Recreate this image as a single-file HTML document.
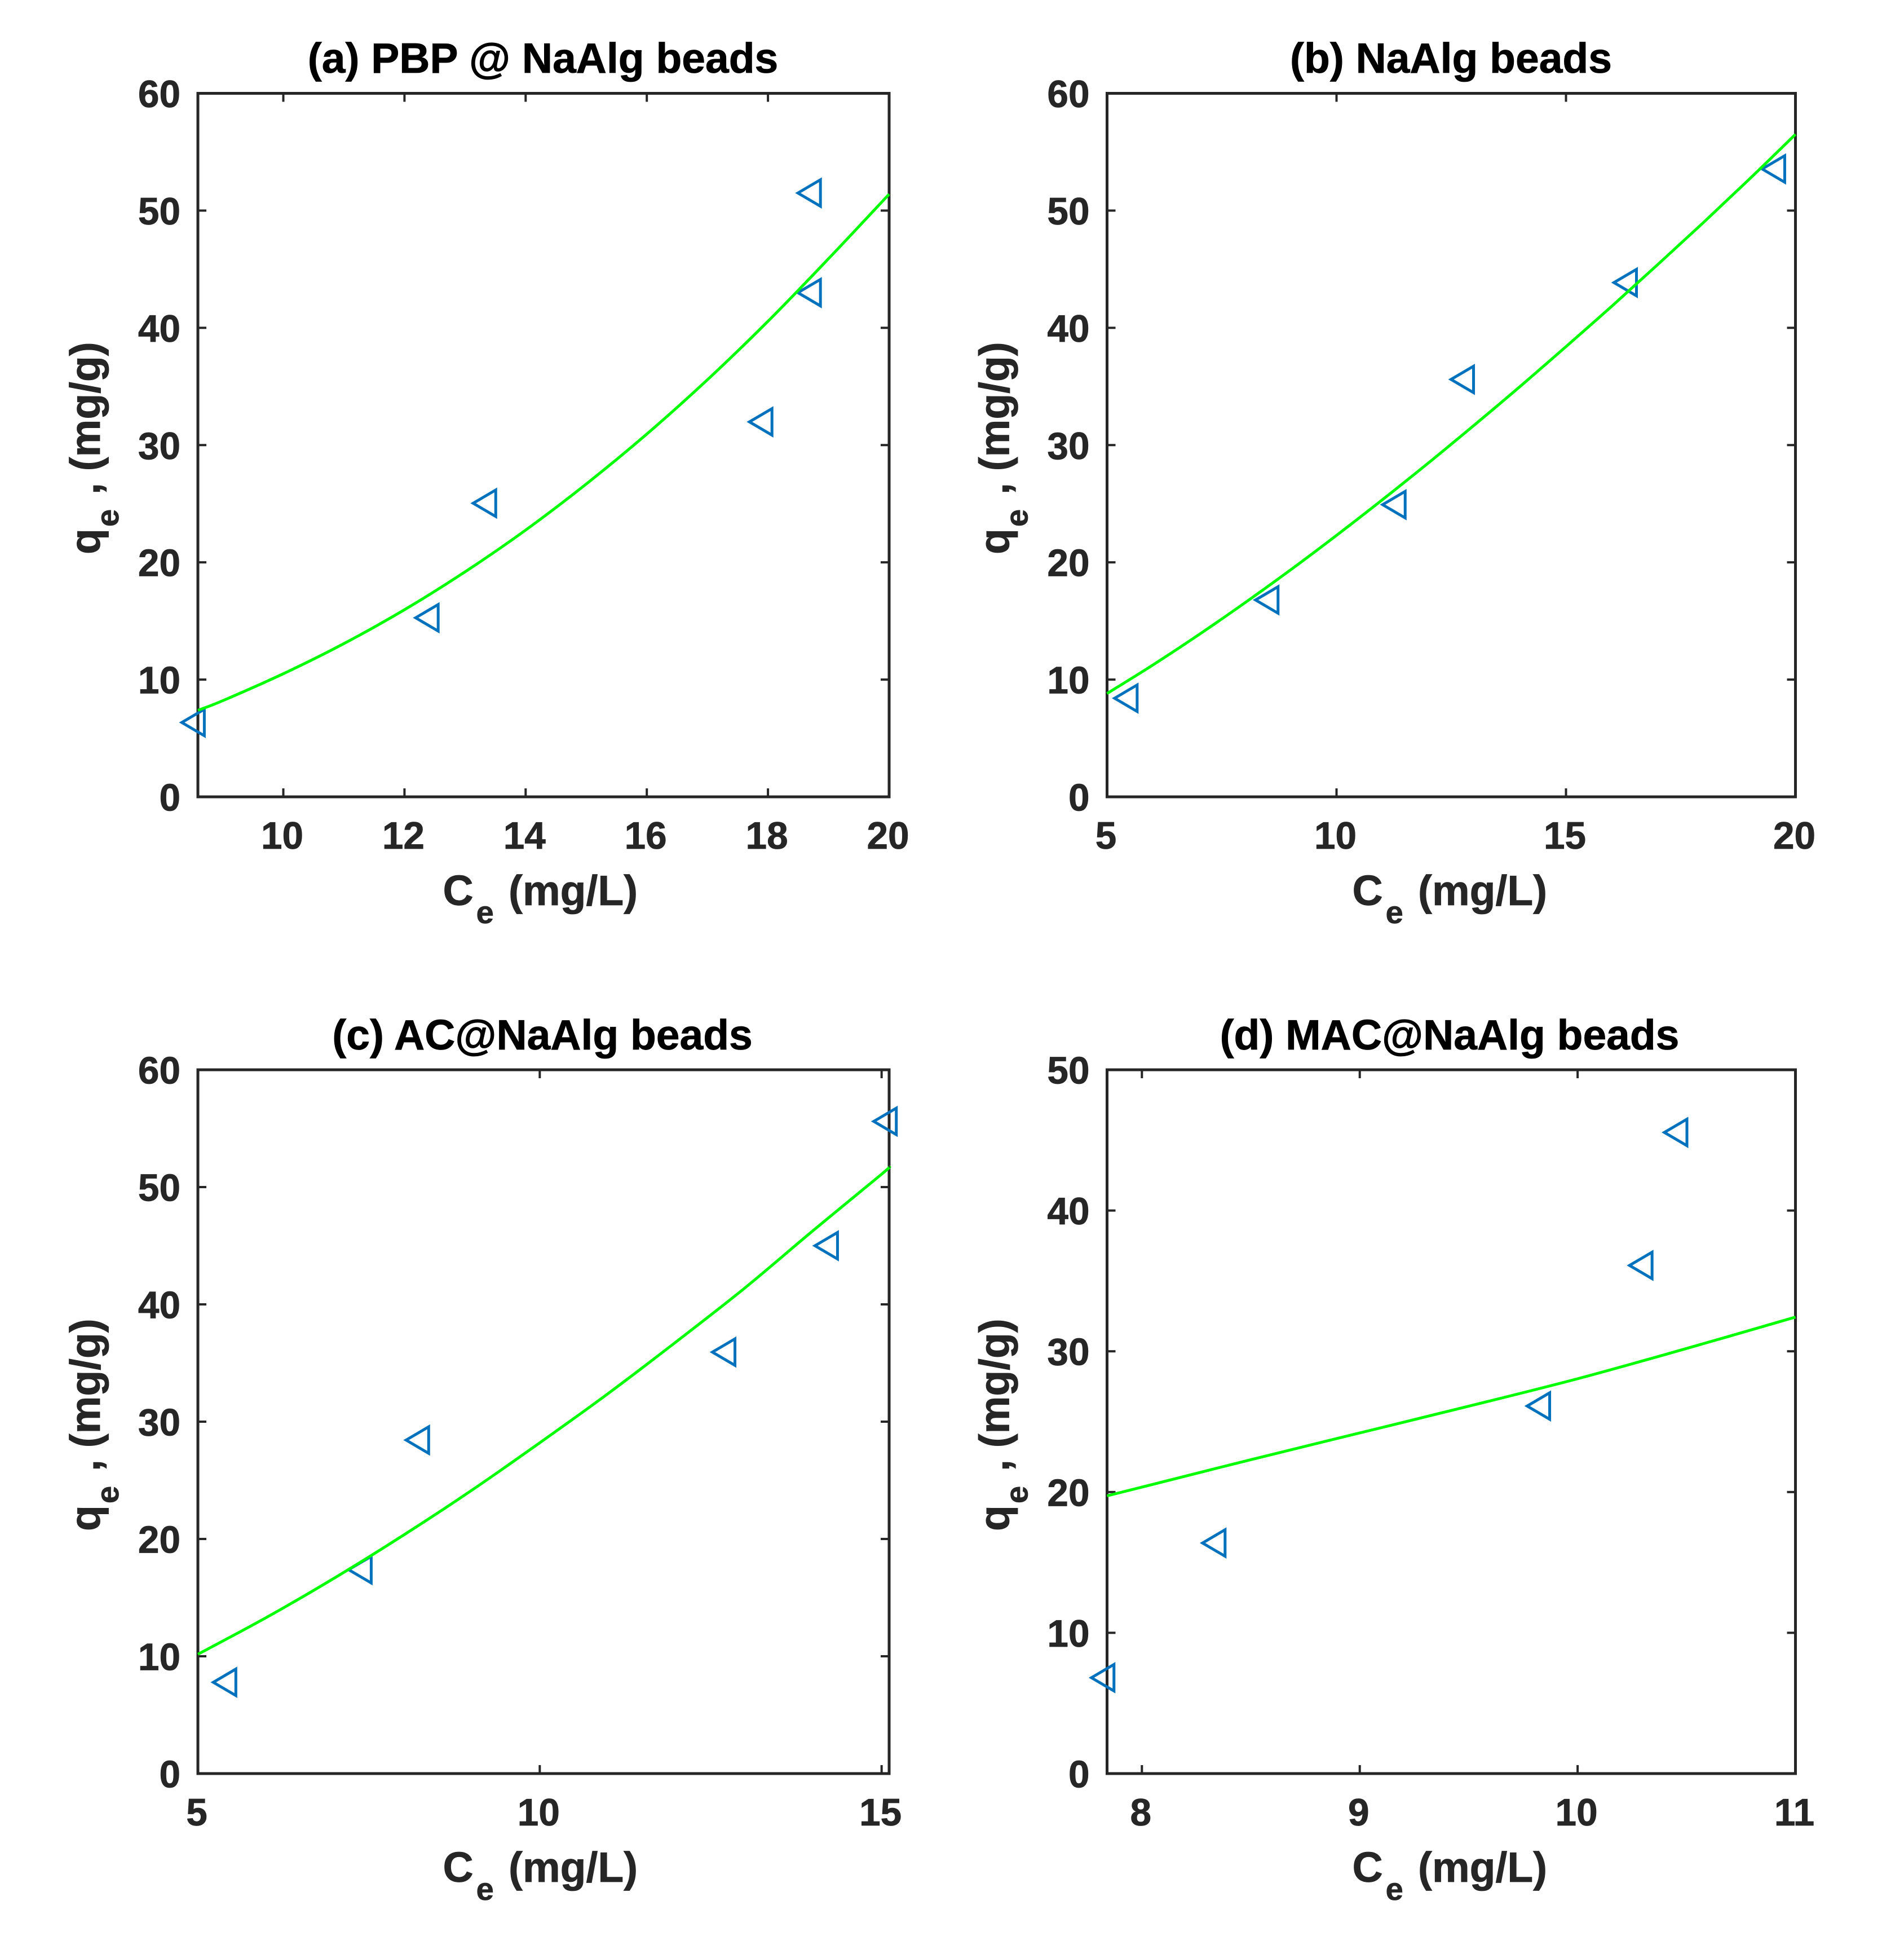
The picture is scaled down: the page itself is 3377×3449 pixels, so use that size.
<!DOCTYPE html>
<html lang="en">
<head>
<meta charset="utf-8">
<title>Adsorption isotherm fits</title>
<style>
html,body{margin:0;padding:0;background:#fff}
svg{display:block}
text{font-family:"Liberation Sans",Arial,sans-serif;font-weight:700;fill:#262626;stroke:#262626;stroke-width:0.8px}
.title{font-size:75px;fill:#000;stroke:#000;text-anchor:middle}
.lab{font-size:75px}
.sub{font-size:56px}
.tick{font-size:67.5px}
</style>
</head>
<body>
<svg id="figure" xmlns="http://www.w3.org/2000/svg" width="3377" height="3449" viewBox="0 0 3377 3449">
<rect x="0" y="0" width="3377" height="3449" fill="#fff"/>

<g id="panel-a">
  <text class="title" x="963" y="129">(a) PBP @ NaAlg beads</text>
  <g>
    <text class="lab" x="785.5" y="1605">C</text><text class="sub" x="844.6" y="1637">e</text><text class="lab" x="902" y="1605">(mg/L)</text>
  </g>
  <g>
    <text class="lab" transform="rotate(-90 177 983)" x="177" y="983">q</text><text class="sub" transform="rotate(-90 210 934)" x="210" y="934">e</text><text class="lab" transform="rotate(-90 177 877)" x="177" y="877">, (mg/g)</text>
  </g>
</g>

<g id="panel-b">
  <text class="title" x="2573.5" y="129">(b) NaAlg beads</text>
  <g>
    <text class="lab" x="2398.5" y="1605">C</text><text class="sub" x="2457.6" y="1637">e</text><text class="lab" x="2515" y="1605">(mg/L)</text>
  </g>
  <g>
    <text class="lab" transform="rotate(-90 1789.5 983)" x="1789.5" y="983">q</text><text class="sub" transform="rotate(-90 1822.5 934)" x="1822.5" y="934">e</text><text class="lab" transform="rotate(-90 1789.5 877)" x="1789.5" y="877">, (mg/g)</text>
  </g>
</g>

<g id="panel-c">
  <text class="title" x="962" y="1861">(c) AC@NaAlg beads</text>
  <g>
    <text class="lab" x="785.5" y="3337">C</text><text class="sub" x="844.6" y="3369">e</text><text class="lab" x="902" y="3337">(mg/L)</text>
  </g>
  <g>
    <text class="lab" transform="rotate(-90 177 2715)" x="177" y="2715">q</text><text class="sub" transform="rotate(-90 210 2666)" x="210" y="2666">e</text><text class="lab" transform="rotate(-90 177 2609)" x="177" y="2609">, (mg/g)</text>
  </g>
</g>

<g id="panel-d">
  <text class="title" x="2571" y="1861">(d) MAC@NaAlg beads</text>
  <g>
    <text class="lab" x="2398.5" y="3337">C</text><text class="sub" x="2457.6" y="3369">e</text><text class="lab" x="2515" y="3337">(mg/L)</text>
  </g>
  <g>
    <text class="lab" transform="rotate(-90 1789.5 2715)" x="1789.5" y="2715">q</text><text class="sub" transform="rotate(-90 1822.5 2666)" x="1822.5" y="2666">e</text><text class="lab" transform="rotate(-90 1789.5 2609)" x="1789.5" y="2609">, (mg/g)</text>
  </g>
</g>
</svg>

<script>
// Panel (a) data
const aXDomain = [8.59, 20];
const aYDomain = [0, 60];
const aXTicks = [10, 12, 14, 16, 18, 20];
const aYTicks = [0, 10, 20, 30, 40, 50, 60];
const aPointsC = [8.51, 12.37, 13.32, 17.88, 18.68, 18.68];
const aPointsQ = [6.34, 15.27, 25.04, 31.98, 43.0, 51.5];
const aCurveC = [8.59, 9, 10, 11, 12, 13, 14, 15, 16, 17, 18, 19, 20];
const aCurveQ = [7.38, 8.2, 10.5, 13.07, 15.96, 19.19, 22.75, 26.68, 30.94, 35.57, 40.56, 45.9, 51.4];

// Panel (b) data
const bXDomain = [5, 20];
const bYDomain = [0, 60];
const bXTicks = [5, 10, 15, 20];
const bYTicks = [0, 10, 20, 30, 40, 50, 60];
const bPointsC = [5.41, 8.48, 11.25, 12.74, 16.29, 19.52];
const bPointsQ = [8.41, 16.79, 24.92, 35.6, 43.86, 53.55];
const bCurveC = [5, 6, 7, 8, 9, 10, 11, 12, 13, 14, 15, 16, 17, 18, 19, 20];
const bCurveQ = [8.81, 11.25, 13.83, 16.54, 19.36, 22.3, 25.34, 28.47, 31.7, 35.0, 38.4, 41.85, 45.4, 49.0, 52.7, 56.5];

// Panel (c) data
const cXDomain = [5, 15.11];
const cYDomain = [0, 60];
const cXTicks = [5, 10, 15];
const cYTicks = [0, 10, 20, 30, 40, 50, 60];
const cPointsC = [5.39, 7.37, 8.21, 12.69, 14.19, 15.05];
const cPointsQ = [7.78, 17.38, 28.43, 35.93, 45.0, 55.6];
const cCurveC = [5, 6, 7, 8, 9, 10, 11, 12, 13, 14, 15, 15.11];
const cCurveQ = [10.17, 13.3, 16.68, 20.3, 24.13, 28.2, 32.4, 36.83, 41.4, 46.3, 51.1, 51.7];

// Panel (d) data
const dXDomain = [7.84, 11];
const dYDomain = [0, 50];
const dXTicks = [8, 9, 10, 11];
const dYTicks = [0, 10, 20, 30, 40, 50];
const dPointsC = [7.82, 8.33, 9.82, 10.29, 10.45];
const dPointsQ = [6.81, 16.38, 26.11, 36.1, 45.55];
const dCurveC = [7.84, 8, 8.5, 9, 9.5, 10, 10.5, 11];
const dCurveQ = [19.73, 20.35, 22.3, 24.2, 26.1, 28.05, 30.2, 32.43];

const NS = 'http://www.w3.org/2000/svg';
const AXIS_COLOR = '#262626';

// Smooth path through the read values (Catmull-Rom converted to cubic Beziers).
function smoothPath(pts) {
  let d = 'M' + pts[0][0] + ',' + pts[0][1];
  for (let i = 0; i < pts.length - 1; i++) {
    const p0 = pts[Math.max(i - 1, 0)];
    const p1 = pts[i];
    const p2 = pts[i + 1];
    const p3 = pts[Math.min(i + 2, pts.length - 1)];
    const c1x = p1[0] + (p2[0] - p0[0]) / 6;
    const c1y = p1[1] + (p2[1] - p0[1]) / 6;
    const c2x = p2[0] - (p3[0] - p1[0]) / 6;
    const c2y = p2[1] - (p3[1] - p1[1]) / 6;
    d += ' C' + c1x + ',' + c1y + ' ' + c2x + ',' + c2y + ' ' + p2[0] + ',' + p2[1];
  }
  return d;
}

function drawPanel(id, box, xDomain, yDomain, xTicks, yTicks, pointsC, pointsQ, curveC, curveQ) {
  const root = document.getElementById(id);
  const xScale = v => box.left + (v - xDomain[0]) / (xDomain[1] - xDomain[0]) * (box.right - box.left);
  const yScale = v => box.bottom - (v - yDomain[0]) / (yDomain[1] - yDomain[0]) * (box.bottom - box.top);

  const frame = document.createElementNS(NS, 'rect');
  
  
  frame.setAttribute('x', box.left);
  frame.setAttribute('y', box.top);
  frame.setAttribute('width', box.right - box.left);
  frame.setAttribute('height', box.bottom - box.top);
  frame.setAttribute('fill', 'none');
  frame.setAttribute('stroke', AXIS_COLOR);
  frame.setAttribute('stroke-width', '5');
  root.appendChild(frame);

  xTicks.forEach(v => {
    const px = xScale(v);
    [[box.bottom, box.bottom - 15], [box.top, box.top + 15]].forEach(ends => {
      const t = document.createElementNS(NS, 'line');
      
      
      t.setAttribute('x1', px);
      t.setAttribute('x2', px);
      t.setAttribute('y1', ends[0]);
      t.setAttribute('y2', ends[1]);
      t.setAttribute('stroke', AXIS_COLOR);
      t.setAttribute('stroke-width', '4');
      root.appendChild(t);
    });
    const label = document.createElementNS(NS, 'text');
    
    
    label.setAttribute('class', 'tick');
    label.setAttribute('text-anchor', 'middle');
    label.setAttribute('x', px - 2);
    label.setAttribute('y', box.bottom + 92);
    label.textContent = String(v);
    root.appendChild(label);
  });

  yTicks.forEach(v => {
    const py = yScale(v);
    [[box.left, box.left + 15], [box.right, box.right - 15]].forEach(ends => {
      const t = document.createElementNS(NS, 'line');
      
      
      t.setAttribute('x1', ends[0]);
      t.setAttribute('x2', ends[1]);
      t.setAttribute('y1', py);
      t.setAttribute('y2', py);
      t.setAttribute('stroke', AXIS_COLOR);
      t.setAttribute('stroke-width', '4');
      root.appendChild(t);
    });
    const label = document.createElementNS(NS, 'text');
    
    
    label.setAttribute('class', 'tick');
    label.setAttribute('text-anchor', 'end');
    label.setAttribute('x', box.left - 31);
    label.setAttribute('y', py + 24.5);
    label.textContent = String(v);
    root.appendChild(label);
  });

  pointsC.forEach((c, i) => {
    const px = xScale(c);
    const py = yScale(pointsQ[i]);
    const m = document.createElementNS(NS, 'polygon');
    
    
    m.setAttribute('points', (px - 20) + ',' + py + ' ' + (px + 20) + ',' + (py - 23.5) + ' ' + (px + 20) + ',' + (py + 23.5));
    m.setAttribute('fill', 'none');
    m.setAttribute('stroke', '#0072BD');
    m.setAttribute('stroke-width', '5');
    root.appendChild(m);
  });

  const curve = document.createElementNS(NS, 'path');
  
  
  curve.setAttribute('d', smoothPath(curveC.map((c, i) => [xScale(c), yScale(curveQ[i])])));
  curve.setAttribute('fill', 'none');
  curve.setAttribute('stroke', '#00ff00');
  curve.setAttribute('stroke-width', '5');
  curve.setAttribute('stroke-linejoin', 'round');
  root.appendChild(curve);
}

drawPanel('panel-a', {left: 351, right: 1577, top: 165.5, bottom: 1413}, aXDomain, aYDomain, aXTicks, aYTicks, aPointsC, aPointsQ, aCurveC, aCurveQ);
drawPanel('panel-b', {left: 1963.5, right: 3184.5, top: 165.5, bottom: 1413}, bXDomain, bYDomain, bXTicks, bYTicks, bPointsC, bPointsQ, bCurveC, bCurveQ);
drawPanel('panel-c', {left: 351, right: 1577, top: 1897, bottom: 3145}, cXDomain, cYDomain, cXTicks, cYTicks, cPointsC, cPointsQ, cCurveC, cCurveQ);
drawPanel('panel-d', {left: 1963.5, right: 3184.5, top: 1897, bottom: 3145}, dXDomain, dYDomain, dXTicks, dYTicks, dPointsC, dPointsQ, dCurveC, dCurveQ);
</script>
</body>
</html>
